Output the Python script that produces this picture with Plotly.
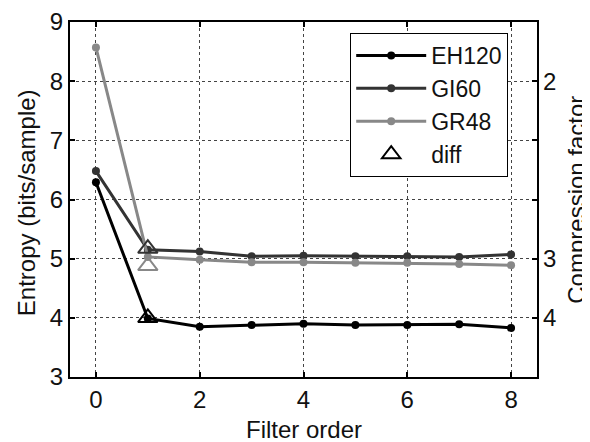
import plotly.graph_objects as go

filter_order = [0, 1, 2, 3, 4, 5, 6, 7, 8]
eh120 = [6.29, 3.99, 3.85, 3.88, 3.90, 3.88, 3.88, 3.89, 3.83]
gi60 = [6.48, 5.15, 5.12, 5.04, 5.05, 5.04, 5.04, 5.03, 5.07]
gr48 = [8.57, 5.03, 4.98, 4.94, 4.94, 4.93, 4.93, 4.91, 4.89]
diff_x = [1]
diff_eh120 = [4.00]
diff_gi60 = [5.17]
diff_gr48 = [4.88]
series_names = ["EH120", "GI60", "GR48"]
colors = ["#000000", "#333333", "#888888"]
comp_tickvals = [8, 5, 4]
comp_ticktext = ["2", "3", "4"]

FONT = "Liberation Sans, Arial, sans-serif"
fig = go.Figure()
for name, ys, c in zip(series_names, [eh120, gi60, gr48], colors):
    fig.add_trace(go.Scatter(x=filter_order, y=ys, name=name, mode="lines+markers",
                             line=dict(color=c, width=3),
                             marker=dict(symbol="circle", size=8, color=c)))
for diffs, c in zip([diff_eh120, diff_gi60, diff_gr48], colors):
    fig.add_trace(go.Scatter(x=diff_x, y=diffs, mode="markers", showlegend=False,
                             marker=dict(symbol="triangle-up-open", size=17, color=c,
                                         line=dict(width=2, color=c))))
fig.add_trace(go.Scatter(x=[None], y=[None], mode="markers", name="diff",
                         marker=dict(symbol="triangle-up-open", size=16, color="black",
                                     line=dict(width=2, color="black"))))
fig.add_trace(go.Scatter(x=[None], y=[None], yaxis="y2", showlegend=False,
                         hoverinfo="skip", mode="markers"))

axis_common = dict(showline=True, linecolor="black", linewidth=2, mirror="ticks",
                   ticks="inside", ticklen=5, tickwidth=1.5, tickcolor="black",
                   showgrid=True, gridcolor="#444444", griddash="dot", gridwidth=1,
                   zeroline=False, automargin=False,
                   tickfont=dict(size=24, color="#111", family=FONT))
fig.update_layout(
    width=582, height=434,
    margin=dict(l=62, r=53, t=14, b=65),
    plot_bgcolor="white", paper_bgcolor="white",
    font=dict(family=FONT, size=24, color="#111"),
    xaxis=dict(range=[-0.5, 8.5], tickvals=[0, 2, 4, 6, 8], **axis_common),
    yaxis=dict(range=[3, 9], tickvals=[3, 4, 5, 6, 7, 8, 9], **axis_common),
    yaxis2=dict(range=[3, 9], overlaying="y", side="right", tickvals=comp_tickvals,
                ticktext=comp_ticktext, showgrid=False, zeroline=False,
                ticks="inside", ticklen=5, tickcolor="black", showline=False,
                automargin=False, ticklabelstandoff=5,
                tickfont=dict(size=24, color="#111", family=FONT)),
    legend=dict(x=0.600, y=0.969, xanchor="left", yanchor="top",
                bordercolor="black", borderwidth=1, bgcolor="white",
                font=dict(size=23, family=FONT), itemwidth=70,
                tracegroupgap=0),
    showlegend=True,
    annotations=[
        dict(text="Filter order", xref="paper", yref="paper", x=0.5, y=-0.149,
             showarrow=False, font=dict(size=24, color="#111", family=FONT),
             xanchor="center", yanchor="middle"),
        dict(text="Entropy (bits/sample)", xref="paper", yref="paper", x=-0.094, y=0.49,
             textangle=-90, showarrow=False, font=dict(size=24, color="#111", family=FONT),
             xanchor="center", yanchor="middle"),
        dict(text="Compression factor", xref="paper", yref="paper", x=1.084, y=0.5,
             textangle=-90, showarrow=False, font=dict(size=24, color="#111", family=FONT),
             xanchor="center", yanchor="middle"),
    ],
)
fig.write_html("out.html")
